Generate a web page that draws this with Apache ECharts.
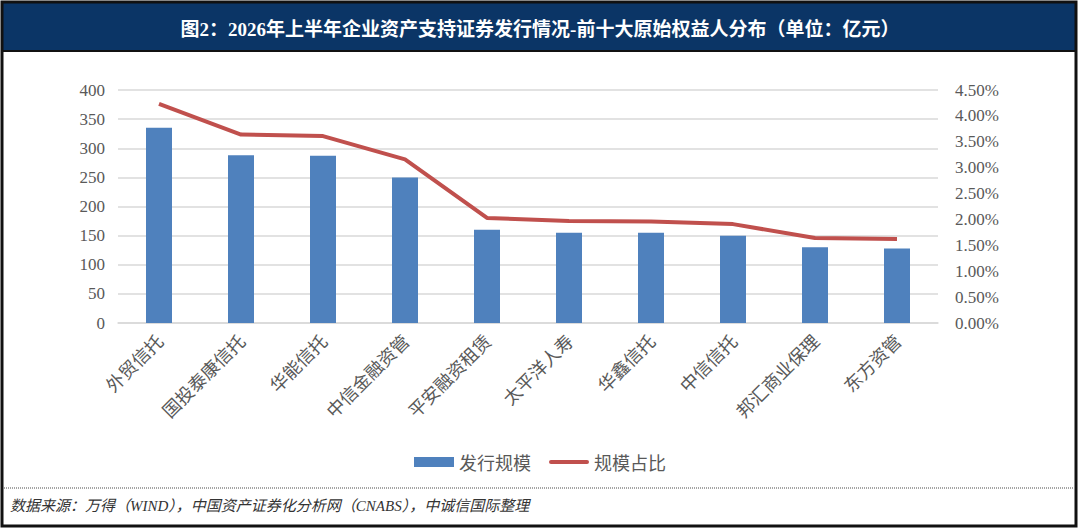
<!DOCTYPE html>
<html>
<head>
<meta charset="utf-8">
<script src="https://cdn.jsdelivr.net/npm/echarts@6/dist/echarts.min.js"></script>
<style>
html,body{margin:0;padding:0;background:#fff;}
#c{width:1080px;height:529px;}
</style>
</head>
<body>
<div id="c"></div>
<script>
const titleText = '图2：2026年上半年企业资产支持证券发行情况-前十大原始权益人分布（单位：亿元）';
const sourceText = '数据来源：万得（WIND），中国资产证券化分析网（CNABS），中诚信国际整理';
const categories = ['外贸信托','国投泰康信托','华能信托','中信金融资管','平安融资租赁','太平洋人寿','华鑫信托','中信信托','邦汇商业保理','东方资管'];
const issueScale = [335, 288, 287, 250, 160, 155, 155, 150, 130, 128];
const scaleShare = [4.23, 3.64, 3.61, 3.16, 2.03, 1.97, 1.96, 1.91, 1.64, 1.62];
const seriesNames = ['发行规模', '规模占比'];

const chart = echarts.init(document.getElementById('c'), null, {renderer: 'svg'});
const serif = "'Liberation Serif','Times New Roman','Noto Sans CJK SC',serif";
const gray = '#595959';
chart.setOption({
  animation: false,
  backgroundColor: '#fff',
  graphic: [
    {type: 'rect', shape: {x: 3, y: 3, width: 1072, height: 48}, style: {fill: '#0b3566'}, z: 0},
    {type: 'line', shape: {x1: 3, y1: 51, x2: 1075, y2: 51}, style: {stroke: '#111', lineWidth: 2}},
    {type: 'line', shape: {x1: 4, y1: 488, x2: 1074, y2: 488}, style: {stroke: '#888', lineWidth: 1.5, lineDash: [1, 1]}},
    {type: 'rect', shape: {x: 2, y: 2, width: 1074, height: 524}, style: {fill: 'none', stroke: '#111', lineWidth: 3}, z: 10},
    {type: 'text', left: 10, top: 498, style: {text: sourceText, fill: '#333', font: "italic 15px 'Liberation Serif','Noto Sans CJK SC',serif"}}
  ],
  title: {
    text: titleText,
    left: 'center',
    top: 15,
    textStyle: {color: '#fff', fontSize: 19, fontWeight: 'bold', fontFamily: serif}
  },
  legend: {
    top: 448,
    left: 'center',
    itemWidth: 40,
    itemHeight: 10,
    itemGap: 18,
    symbolKeepAspect: true,
    textStyle: {color: gray, fontSize: 18, fontFamily: "'Noto Sans CJK SC',sans-serif"},
    data: [
      {name: seriesNames[0], icon: 'rect'},
      {name: seriesNames[1], icon: 'path://M2,0H38A2,2 0 0 1 38,4H2A2,2 0 0 1 2,0Z'}
    ]
  },
  grid: {left: 118, right: 142, top: 90, bottom: 206},
  xAxis: {
    type: 'category',
    data: categories,
    axisLine: {lineStyle: {color: '#d9d9d9', width: 1.5}},
    axisTick: {show: false},
    axisLabel: {rotate: 45, interval: 0, margin: 14, color: gray, fontSize: 18, fontFamily: "'Noto Sans CJK SC',sans-serif"}
  },
  yAxis: [
    {
      type: 'value', min: 0, max: 400, interval: 50,
      axisLine: {show: false}, axisTick: {show: false},
      axisLabel: {color: gray, fontSize: 17, fontFamily: serif, margin: 13},
      splitLine: {lineStyle: {color: '#d9d9d9', width: 1.5}}
    },
    {
      type: 'value', min: 0, max: 4.5, interval: 0.5, position: 'right',
      axisLine: {show: false}, axisTick: {show: false},
      axisLabel: {color: gray, fontSize: 17, fontFamily: serif, margin: 17, formatter: v => v.toFixed(2) + '%'},
      splitLine: {show: false}
    }
  ],
  series: [
    {name: seriesNames[0], type: 'bar', data: issueScale, barWidth: 26, itemStyle: {color: '#4f81bd'}, yAxisIndex: 0},
    {name: seriesNames[1], type: 'line', data: scaleShare, yAxisIndex: 1, symbol: 'none',
     lineStyle: {color: '#c0504d', width: 4}, itemStyle: {color: '#c0504d'}}
  ]
});
</script>
</body>
</html>
